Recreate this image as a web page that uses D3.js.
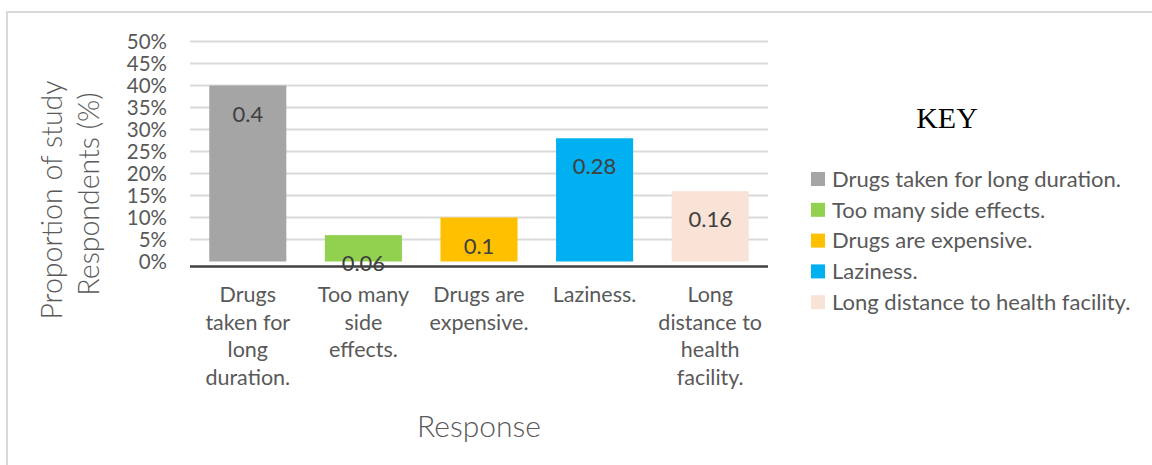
<!DOCTYPE html>
<html>
<head>
<meta charset="utf-8">
<script src="https://cdn.jsdelivr.net/npm/d3@7"></script>
<style>
  html, body { margin: 0; padding: 0; background: #ffffff; }
  svg { display: block; }
  text { font-family: Lato, "Open Sans", sans-serif; }
</style>
</head>
<body>
<svg id="chart" width="1152" height="465"></svg>
<script>
// Reasons for non-adherence, share of respondents
const categories = [
  "Drugs taken for long duration.",
  "Too many side effects.",
  "Drugs are expensive.",
  "Laziness.",
  "Long distance to health facility."
];
const values = [0.4, 0.06, 0.1, 0.28, 0.16];
const colors = ["#a5a5a5", "#92d050", "#ffc000", "#00b0f0", "#f9e3d6"];
// wrapped axis labels, one array per category
const categoryLines = [
  ["Drugs", "taken for", "long", "duration."],
  ["Too many", "side", "effects."],
  ["Drugs are", "expensive."],
  ["Laziness."],
  ["Long", "distance to", "health", "facility."]
];
const yTicks = [0, 0.05, 0.1, 0.15, 0.2, 0.25, 0.3, 0.35, 0.4, 0.45, 0.5];
const yTitleLines = ["Proportion of study", "Respondents (%)"];
const xTitle = "Response";
const legendTitle = "KEY";

const svg = d3.select("#chart");

// outer chart frame (only top and left edges fall inside the view)
svg.append("rect")
  .attr("x", 7).attr("y", 12)
  .attr("width", 1200).attr("height", 500)
  .attr("fill", "none")
  .attr("stroke", "#d9d9d9")
  .attr("stroke-width", 2);

const plotLeft = 190, plotRight = 768;

const x = d3.scaleBand()
  .domain(categories)
  .range([plotLeft, plotRight])
  .paddingInner(1 / 3)
  .paddingOuter(1 / 6);

const y = d3.scaleLinear()
  .domain([0, 0.5])
  .range([261.5, 41.5]);

// horizontal gridlines
svg.append("g")
  .selectAll("line")
  .data(yTicks.filter(t => t > 0))
  .join("line")
  .attr("x1", plotLeft).attr("x2", plotRight)
  .attr("y1", d => y(d)).attr("y2", d => y(d))
  .attr("stroke", "#d9d9d9")
  .attr("stroke-width", 2);

// y-axis tick labels
const yAxis = d3.axisLeft(y)
  .tickValues(yTicks)
  .tickFormat(d3.format(".0%"))
  .tickSize(0)
  .tickPadding(0);

const yAxisG = svg.append("g")
  .attr("transform", "translate(167,0)")
  .call(yAxis);
yAxisG.select(".domain").remove();
yAxisG.selectAll("text")
  .attr("fill", "#595959")
  .style("font-size", "20.5px")
  .style("font-family", "Lato, sans-serif");

// bars
svg.append("g")
  .selectAll("rect")
  .data(values)
  .join("rect")
  .attr("x", (d, i) => x(categories[i]))
  .attr("width", x.bandwidth())
  .attr("y", d => y(d))
  .attr("height", d => y(0) - y(d))
  .attr("fill", (d, i) => colors[i]);

// category axis line
svg.append("line")
  .attr("x1", plotLeft).attr("x2", plotRight)
  .attr("y1", y(0) + 5).attr("y2", y(0) + 5)
  .attr("stroke", "#404040")
  .attr("stroke-width", 2.5);

// value labels, inside the top of each bar
svg.append("g")
  .selectAll("text")
  .data(values)
  .join("text")
  .attr("x", (d, i) => x(categories[i]) + x.bandwidth() / 2)
  .attr("y", d => y(d) + 36)
  .attr("text-anchor", "middle")
  .attr("fill", "#404040")
  .style("font-size", "22px")
  .text(d => String(d));

// wrapped category labels
const catG = svg.append("g");
categoryLines.forEach((lines, i) => {
  const t = catG.append("text")
    .attr("text-anchor", "middle")
    .attr("fill", "#595959")
    .style("font-size", "21.5px");
  lines.forEach((ln, j) => {
    t.append("tspan")
      .attr("x", x(categories[i]) + x.bandwidth() / 2)
      .attr("y", 302 + j * 27.5)
      .text(ln);
  });
});

// axis titles
svg.append("text")
  .attr("x", (plotLeft + plotRight) / 2)
  .attr("y", 437)
  .attr("text-anchor", "middle")
  .attr("fill", "#595959")
  .style("font-size", "30px")
  .style("font-weight", 300)
  .text(xTitle);

const yTitleX = [62, 99];
const yTitleY = [200, 194];
yTitleLines.forEach((ln, j) => {
  svg.append("text")
    .attr("transform", `translate(${yTitleX[j]},${yTitleY[j]}) rotate(-90)`)
    .attr("text-anchor", "middle")
    .attr("fill", "#595959")
    .style("font-size", "28.5px")
    .style("font-weight", 300)
    .text(ln);
});

// legend
svg.append("text")
  .attr("x", 947).attr("y", 128)
  .attr("text-anchor", "middle")
  .attr("fill", "#000000")
  .style("font-family", "'Liberation Serif', 'Times New Roman', serif")
  .style("font-size", "30px")
  .text(legendTitle);

const legend = svg.append("g")
  .selectAll("g")
  .data(categories)
  .join("g")
  .attr("transform", (d, i) => `translate(811,${179 + i * 30.8})`);

legend.append("rect")
  .attr("x", 0).attr("y", -7)
  .attr("width", 14).attr("height", 14)
  .attr("fill", (d, i) => colors[i]);

legend.append("text")
  .attr("x", 21).attr("y", 0)
  .attr("dy", "0.35em")
  .attr("fill", "#595959")
  .style("font-size", "22px")
  .text(d => d);
</script>
</body>
</html>
